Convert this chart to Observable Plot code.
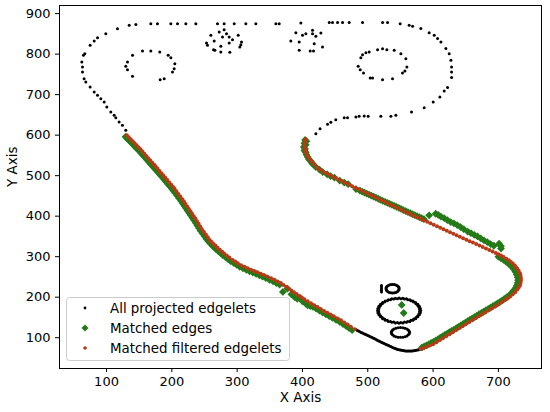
<!DOCTYPE html>
<html><head><meta charset="utf-8">
<script src="https://cdn.jsdelivr.net/npm/d3@7"></script>
<script src="https://cdn.jsdelivr.net/npm/@observablehq/plot@0.6"></script>
<style>body{margin:0;background:#fff}svg{display:block}</style>
</head><body><div id="chart"></div>
<script>
const xTicks = [100, 200, 300, 400, 500, 600, 700];
const yTicks = [100, 200, 300, 400, 500, 600, 700, 800, 900];
const legendLabels = ["All projected edgelets", "Matched edges", "Matched filtered edgelets"];
const xLabel = "X Axis";
const yLabel = "Y Axis";

// All projected edgelets (black)
const outerPath = [[129.5,611.8],[124.4,624.2],[119.3,632.4],[114.2,643.1],[111.7,648.9],[106.6,657.1],[100.4,669.4],[96.4,681.8],[91.3,690],[86.2,698.3],[81.1,706.5],[74.9,718.8],[68.3,731.2],[65.7,739.4],[63.2,755.9],[63.2,768.2],[62.2,780.6],[64.7,797],[66.8,801.1],[74.9,821.7],[81.1,832.4],[86.2,840.6],[98.9,850.5],[116.8,862.8],[134.7,871.1],[144.9,873],[167.8,875.2],[178,875.2],[198.5,875.2],[208.7,875.2],[221.4,875.2],[236.8,875.2],[269.9,875.2],[280.1,875.2],[295.5,875.2],[313.3,875.2],[328.6,875.2],[359.3,875.2],[364.4,875.2],[397.6,877],[441,877.8],[446,877.8],[453.7,877.8],[461.4,877.8],[471.5,877.8],[492,877.8],[522.7,877.8],[530.3,877.8],[549.6,875],[563.4,871],[568.6,868.6],[581.3,863],[594,853],[601.7,846.4],[606.9,838.3],[612,830],[619.6,813.6],[624.7,801.2],[627.3,784.7],[628.3,768],[628.3,755.8],[628.3,742],[622.2,717.3],[617,709],[610.4,694],[600.2,681.7],[586.4,667.9],[567,657],[543,648.9],[535.4,646.4],[520,646.4],[500.6,646.4],[494.5,647],[486.8,646.4],[481.8,644.7],[469,643],[463.9,643],[451,638],[443.5,632],[438.4,626.7],[427,616],[420.5,603.7]];
const leftRing = [[139.8,797],[155.1,807.7],[167.8,807.7],[181.6,805.2],[194.4,797],[198.5,791.2],[204.6,776.4],[203.6,764.1],[201,755.9],[188.3,739.4],[182.1,737],[139.8,745.2],[132.1,761.6],[129.5,769.8],[132.1,780.5]];
const clusterA = [[253.1,827.5],[254.6,821.7],[259.7,846.4],[264.8,832.4],[263.8,811],[272.5,854.6],[275,819.2],[277.6,842.3],[280.1,860.4],[283.7,850.5],[287.8,842.3],[287.8,827.5],[288.8,804.4],[292.9,835.7],[301.6,846.4],[306.7,830],[305.7,823.3],[304.1,817.6],[275,805.2],[265.9,809.4]];
const clusterB = [[389.9,853],[400.1,846.4],[405.2,850.5],[415.4,858.7],[415.4,850.5],[420.5,843.9],[428.2,852.1],[382.2,832.4],[395,830],[418,825.8],[430.7,817.6],[395,809.4],[411.8,807.7],[416.9,807.7]];
const topRing = [[489.4,791.2],[492,798.7],[497.1,803.6],[502.2,805.2],[515,811],[522.6,813.5],[529.2,811],[540.5,809.3],[550.7,801.1],[558.3,788.8],[559.9,768.2],[556.8,758.3],[553.2,753.4],[537.9,739.4],[522.6,737],[507.3,741],[503.7,741],[493.5,753.4],[488.4,761.6],[485.3,769.8]];
const bottomArc = [[482,120],[484,118],[486,116.5],[488,114.8],[490,113],[492,111.5],[494,110],[496,108.5],[498,107],[500,105.5],[502,104],[504,102.5],[506,101],[508,99.5],[510,98],[512,96.3],[514,94.5],[516,92.8],[518,91],[520,89.5],[522,88],[524,86.5],[526,85],[528,83.5],[530,82],[532,80.5],[534,79],[536,77.5],[538,76],[540,74.8],[542,73.5],[544,72.2],[546,71],[548,70.2],[550,69.5],[552,68.9],[554,68.3],[556,67.9],[558,67.5],[560,67.2],[562,67],[564,67.1],[566,67.2],[568,67.5],[570,67.8],[572,68.4],[574,69],[576,69.7],[578,70.5],[580,71.2],[582,72]];
const bigRing = [[581,167],[580.5,172.4],[579,177.6],[576.6,182.5],[573.3,186.9],[569.2,190.7],[564.5,193.8],[559.3,196.1],[553.7,197.5],[548,198],[542.3,197.5],[536.7,196.1],[531.5,193.8],[526.8,190.7],[522.7,186.9],[519.4,182.5],[517,177.6],[515.5,172.4],[515,167],[515.5,161.6],[517,156.4],[519.4,151.5],[522.7,147.1],[526.8,143.3],[531.5,140.2],[536.7,137.9],[542.3,136.5],[548,136],[553.7,136.5],[559.3,137.9],[564.5,140.2],[569.2,143.3],[573.3,147.1],[576.6,151.5],[579,156.4],[580.5,161.6]];
const bigRingInner = [[579.4,169.6],[578.4,174.6],[576.5,179.5],[573.8,183.9],[570.3,187.9],[566.1,191.2],[561.3,193.7],[556.2,195.5],[550.7,196.4],[545.3,196.4],[539.8,195.5],[534.7,193.7],[529.9,191.2],[525.7,187.9],[522.2,183.9],[519.5,179.5],[517.6,174.6],[516.6,169.6],[516.6,164.4],[517.6,159.4],[519.5,154.5],[522.2,150.1],[525.7,146.1],[529.9,142.8],[534.7,140.3],[539.8,138.5],[545.3,137.6],[550.7,137.6],[556.2,138.5],[561.3,140.3],[566.1,142.8],[570.3,146.1],[573.8,150.1],[576.5,154.5],[578.4,159.4],[579.4,164.4]];
const smallRingTop = [[548,221],[546.7,226.3],[543,230.1],[538,231.5],[533,230.1],[529.3,226.3],[528,221],[529.3,215.8],[533,211.9],[538,210.5],[543,211.9],[546.7,215.8],[547.7,223.7],[545.1,228.4],[540.6,231.1],[535.4,231.1],[530.9,228.4],[528.3,223.7],[528.3,218.3],[530.9,213.6],[535.4,210.9],[540.6,210.9],[545.1,213.6],[547.7,218.3],[521,213],[521,217],[521,221],[521,225],[521,229]];
const smallRingBottom = [[564,113],[562.1,119],[557,123.4],[550,125],[543,123.4],[537.9,119],[536,113],[537.9,107],[543,102.6],[550,101],[557,102.6],[562.1,107],[563.5,116.1],[559.9,121.5],[553.6,124.6],[546.4,124.6],[540.1,121.5],[536.5,116.1],[536.5,109.9],[540.1,104.5],[546.4,101.4],[553.6,101.4],[559.9,104.5],[563.5,109.9]];

// Matched edges (green diamonds)
const matchedLeft = [[129,596],[132,591],[135,586],[138,581],[141,576],[144,571],[147,566],[150,561],[153,555.5],[156,550],[159,544.6],[162,539],[165,533.6],[168,528],[171,522.7],[173.5,518],[176,513.4],[179,508],[182,502.2],[185,497],[188,491],[191,485],[194,479.4],[197,474],[200,467.9],[202.5,463],[205,457.5],[208,451],[211,444.5],[214,438],[216.5,432],[219,426],[221.5,420],[224,414],[226.5,408],[229,402],[231.5,396],[234,390],[236.5,383.5],[239,377],[241.5,370.5],[244,364],[247,357.3],[250,350.5],[253,343.8],[256,338],[259,332.3],[262,327.5],[265,322.8],[268,318],[271.5,313.1],[275,308.5],[278,304],[282,299],[286,294.2],[290,289],[295,284],[299.5,279.5],[304,275],[309,271.3],[314,267.7],[319,264],[324,260.7],[329,257.3],[334,254],[339,250.5],[344,247.1],[349.5,243],[355,239],[360,235],[365,231],[370,213],[377,221],[383,207],[388,200],[392,196],[398,196],[400,190],[405,184],[408,180],[412,178],[416,176.4],[421,171.6],[426,166.8],[431,162.2],[436,157.6],[441,153],[446,148.7],[451.5,144],[457,139],[462,133.8],[467,128.5],[471.5,123.8],[476,119]];
const matchedRight = [[404,588],[406,585],[403,580],[405,576],[402,571],[404,566],[403,562],[405,558],[406,552],[408,546],[410,540],[413,535],[415,530],[420,522],[426,515],[431,509],[438,503],[443,499],[449,495],[457,488],[464,483],[470,479],[482,467],[488,463],[491.5,460.5],[495,458],[498.5,455.5],[502,453],[505.5,450.5],[509,448],[512.5,445.5],[516,443],[519.5,440.5],[523,438],[526.5,435.5],[530,433],[533.5,430.5],[537,428],[540.5,425.5],[544,423],[547.5,420.5],[551,418],[554.5,415],[558,412.5],[561.5,410],[565,407.5],[568.5,405],[572,402.5],[575.5,400],[579,397.5],[582.5,395],[586,392.5],[594,402],[604,406],[608,403],[612,399],[617,395],[622,390],[627,385.5],[632,382],[637,378],[642,373],[647,368],[653,362],[658,358],[663,354],[668,350],[673,345],[678,340],[683,336],[688,331],[693,327],[701,332],[704,326],[704,320]];
const matchedLower = [[583,76],[586.5,78.5],[590,81],[593.5,84],[597,87],[600.5,90],[604,93],[607.5,96.5],[611,100],[614.5,103.5],[618,107],[621.5,110],[625,113.5],[628.5,117],[632,120],[635.5,123.5],[639,127],[642.5,130.5],[646,134],[649.5,137.5],[653,141],[656.5,144.5],[660,148],[663.5,151],[667,154.5],[670.5,158],[674,161],[677.5,164.5],[681,168],[684.5,171],[688,174.5],[691.5,178],[695,181],[698.5,184.5],[702,188],[705,191],[708,194.5],[710.5,197],[713,200],[717,205],[720,210],[723,216],[726,222],[728,228],[729.5,235],[730,242],[729.5,249],[728,256],[726,263],[723,270],[720,276],[716,282],[712,287],[708,292],[704,296],[700,300]];
const matchedInRing = [[552,181],[555,161]];

// Matched filtered edgelets (red)
const filteredLeft = [[131,600],[134,595],[137,590],[140,585],[143,580],[146,575],[149,570],[152,565],[155,559.5],[158,554],[161,548.6],[164,543.1],[167,537.6],[170,532.1],[173,526.7],[175,523],[178,517.4],[181,511.8],[184,506.2],[187,500.6],[190,495],[193,489.2],[196,483.4],[199,477.6],[202,471.9],[204,468],[207,461.5],[210,455],[213,448.5],[216,442],[218.5,436],[221,430],[223.5,424],[226,418],[228.5,412],[231,406],[233.5,400],[236,394],[238.5,387.5],[241,381],[243.5,374.5],[246,368],[249,361.3],[252,354.5],[255,347.8],[258,341],[261,336.3],[264,331.5],[267,326.8],[270,322],[273.5,317.1],[277,312.2],[280,308],[284,303.1],[288,298.2],[293,292],[297,288],[301,284],[306,279],[311,275.3],[316,271.7],[321,268],[326,264.7],[331,261.3],[336,258],[341,254.6],[346,251.1],[352,247],[357,243],[362,239],[367,235],[371,230.4],[375,225.8],[379,221.2],[383,216.6],[387,212],[391,207.8],[395,203.6],[399,199.4],[403,195.2],[408,190],[413,185.2],[418,180.4],[423,175.6],[428,170.8],[433,166],[438,161.6],[443,157.2],[448,152.7],[454,147.4],[459,143],[464,137.8],[469,132.5],[474,127.3],[480,121]];
const filteredRight = [[405,590],[404,584],[403,578],[403,572],[404,566],[405,560],[406,555],[408,548],[411,541],[414,535],[418,528],[422,521],[426,515],[431,510],[436,506],[441,502],[446,498],[451,494],[456,490],[461,486],[466,482],[471,478],[476,474],[481,470],[486,466.4],[491,462.6],[496,458.7],[501,454.8],[506,450.9],[511,447.1],[516,443.2],[521,439.3],[526,435.4],[531,431.5],[536,427.6],[541,423.8],[546,419.9],[551,416],[556,412.3],[561,408.6],[566,404.9],[571,401.2],[576,397.5],[581,393.8],[586,390.1],[591,386.4],[596,382.7],[601,379.1],[606,375.4],[611,371.7],[616,368],[621,364.3],[626,360.6],[631,356.9],[636,353.2],[641,349.5],[646,345.8],[651,342.1],[656,338.4],[661,334.7],[666,331],[671,327.3],[676,323.6],[681,319.9],[686,316.2],[691,312.5],[696,308.8],[700,305.8],[704,303],[708,299],[712,295],[716,291],[719,287],[722,283],[725,278],[727,274],[729,270],[731,265],[733,259],[734,253],[734.5,247],[734.5,241],[734,235],[733,229],[731,224],[729,219],[726,213],[722,207],[718,202],[714,197],[710,193],[705,187.5],[700,182],[695,177],[690,172],[685,167.5],[680,162.5],[675,158],[670,153],[665,148],[660,143],[655,138.3],[650,133.5],[645,128.5],[640,123.5],[635,118.5],[630,113.5],[625,108.5],[620,103.5],[615,98.5],[610,93.5],[605,88.5],[600,84],[595,81],[590,77.5],[585,74],[581,72]];

const allProjected = [].concat(outerPath, leftRing, clusterA, clusterB, topRing, bottomArc, bigRing, bigRingInner, smallRingTop, smallRingBottom);
const matchedEdges = [].concat(matchedLeft, matchedRight, matchedLower, matchedInRing);
const filteredEdgelets = [].concat(filteredLeft, filteredRight);

const BLACK = "#000000", GREEN = "#237a17", RED = "#b93a17";
const FONT = "DejaVu Sans";

const chart = Plot.plot({
  width: 550, height: 412,
  marginLeft: 59, marginRight: 9, marginTop: 5, marginBottom: 44,
  style: {fontFamily: FONT, fontSize: "13px", background: "white", color: "black"},
  x: {domain: [28, 766]},
  y: {domain: [24, 920]},
  marks: [
    Plot.dot(allProjected, {x: d => d[0], y: d => d[1], r: 1.5, fill: BLACK}),
    Plot.dot(matchedEdges, {x: d => d[0], y: d => d[1], symbol: "square", rotate: 45, r: 3.1, fill: GREEN}),
    Plot.dot(filteredEdgelets, {x: d => d[0], y: d => d[1], r: 2, fill: RED}),
    Plot.frame({stroke: "black", strokeWidth: 1}),
    Plot.axisX({ticks: xTicks, tickSize: 4, tickPadding: 4, label: null, fontSize: 13}),
    Plot.axisY({ticks: yTicks, tickSize: 4, tickPadding: 5, label: null, fontSize: 13}),
    Plot.text([xLabel], {text: d => d, frameAnchor: "bottom", dy: 33, fontSize: 13.5}),
    Plot.text([yLabel], {text: d => d, frameAnchor: "left", dx: -47, rotate: -90, fontSize: 13.5})
  ]
});
document.getElementById("chart").appendChild(chart);

// legend in the lower-left corner of the axes
const svg = d3.select(chart);
const lg = svg.append("g").attr("font-family", FONT).attr("font-size", 13.4).attr("text-anchor", "start");
lg.append("rect").attr("x", 66.5).attr("y", 297.5).attr("width", 223).attr("height", 63)
  .attr("rx", 3).attr("fill", "white").attr("fill-opacity", 0.8).attr("stroke", "#cccccc");
const rowY = [308, 328, 348];
lg.append("circle").attr("cx", 85).attr("cy", rowY[0]).attr("r", 1.4).attr("fill", BLACK);
lg.append("rect").attr("x", -2.5).attr("y", -2.5).attr("width", 5).attr("height", 5)
  .attr("transform", `translate(85,${rowY[1]}) rotate(45)`).attr("fill", GREEN);
lg.append("circle").attr("cx", 85).attr("cy", rowY[2]).attr("r", 1.8).attr("fill", RED);
legendLabels.forEach((t, i) => {
  lg.append("text").attr("x", 110).attr("y", rowY[i]).attr("dy", "0.35em").attr("fill", "black")
    .attr("text-anchor", "start").text(t);
});
</script></body></html>
